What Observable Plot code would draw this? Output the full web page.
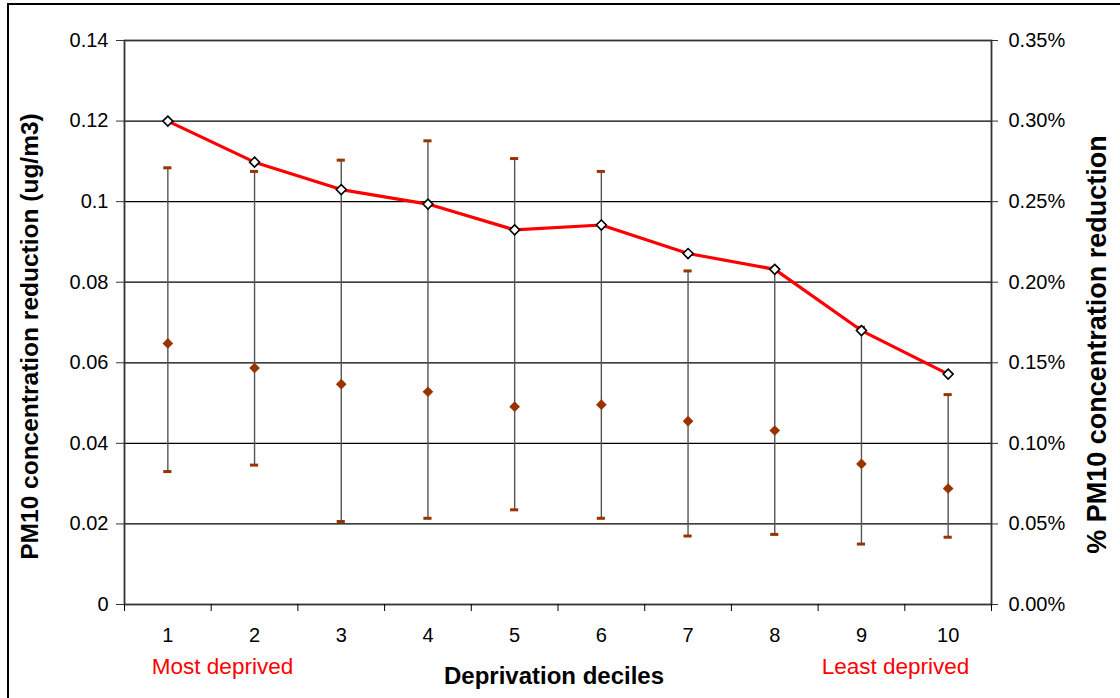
<!DOCTYPE html>
<html>
<head>
<meta charset="utf-8">
<script src="https://cdn.jsdelivr.net/npm/d3@7"></script>
<script src="https://cdn.jsdelivr.net/npm/@observablehq/plot@0.6"></script>
<style>
  html, body { margin: 0; padding: 0; background: #fff; overflow: hidden; }
  #wrap { position: relative; width: 1120px; height: 698px; font-family: "Liberation Sans", Arial, sans-serif; }
  #border { position: absolute; left: 7px; top: 3px; width: 1200px; height: 800px; border: 2px solid #000; box-sizing: border-box; pointer-events: none; }
  #chart { position: absolute; left: 0; top: 0; }
</style>
</head>
<body>
<div id="wrap"><div id="chart"></div><div id="border"></div></div>
<script>
// ---- data ----
const deciles = [1, 2, 3, 4, 5, 6, 7, 8, 9, 10];
// % PM10 concentration reduction (right axis, percent)
const pctReduction = [0.300, 0.2745, 0.2575, 0.2485, 0.2325, 0.2355, 0.2178, 0.208, 0.170, 0.143];
// PM10 concentration reduction (ug/m3, left axis): central estimate and range
const meanReduction = [0.0648, 0.0587, 0.0547, 0.0528, 0.0491, 0.0496, 0.0455, 0.0432, 0.0349, 0.0288];
const upperReduction = [0.1084, 0.1075, 0.1103, 0.1151, 0.1107, 0.1075, 0.0828, 0.0835, 0.0688, 0.0521];
const lowerReduction = [0.0330, 0.0346, 0.0206, 0.0214, 0.0235, 0.0214, 0.0170, 0.0174, 0.0150, 0.0167];
// axes
const leftTicks = [0, 0.02, 0.04, 0.06, 0.08, 0.1, 0.12, 0.14];
const leftTickLabels = ["0", "0.02", "0.04", "0.06", "0.08", "0.1", "0.12", "0.14"];
const rightTickLabels = ["0.00%", "0.05%", "0.10%", "0.15%", "0.20%", "0.25%", "0.30%", "0.35%"];
const rightMaxPct = 0.35;
const xBoundaries = [0.5, 1.5, 2.5, 3.5, 4.5, 5.5, 6.5, 7.5, 8.5, 9.5, 10.5];

const leftMax = leftTicks[leftTicks.length - 1];
const pctToLeft = p => p * leftMax / rightMaxPct;

const rows = deciles.map((d, i) => ({
  decile: d,
  pct: pctReduction[i],
  mean: meanReduction[i],
  hi: upperReduction[i],
  lo: lowerReduction[i]
}));

const brown = "#993300";
const capHalf = 0.047;

const chart = Plot.plot({
  width: 1120,
  height: 698,
  marginLeft: 124,
  marginRight: 129,
  marginTop: 40,
  marginBottom: 94,
  style: { fontFamily: "'Liberation Sans', Arial, sans-serif", background: "transparent", color: "#000" },
  x: { type: "linear", domain: [0.5, 10.5] },
  y: { domain: [0, leftMax] },
  marks: [
    Plot.gridY(leftTicks, { stroke: "#000", strokeOpacity: 1, strokeWidth: 1.2 }),
    Plot.frame({ stroke: "#333", strokeWidth: 1.8 }),
    // left axis
    Plot.axisY(leftTicks, {
      anchor: "left", tickSize: 8, tickPadding: 8, fontSize: 20, label: null,
      stroke: "#333", tickFormat: (d, i) => leftTickLabels[i]
    }),
    // right axis (percent)
    Plot.axisY(leftTicks, {
      anchor: "right", tickSize: 6, tickPadding: 11, fontSize: 20, label: null,
      stroke: "#333", tickFormat: (d, i) => rightTickLabels[i]
    }),
    // bottom tick marks at category boundaries
    Plot.axisX(xBoundaries, { anchor: "bottom", tickSize: 7, tickFormat: () => "", label: null, stroke: "#000" }),
    // bottom category labels
    Plot.axisX(deciles, { anchor: "bottom", tickSize: 0, tickPadding: 23, fontSize: 20, label: null, tickFormat: d => String(d) }),
    // error bars
    Plot.ruleX(rows, { x: "decile", y1: "lo", y2: "hi", stroke: "#555", strokeWidth: 1.4 }),
    Plot.ruleY(rows, { y: "hi", x1: d => d.decile - capHalf, x2: d => d.decile + capHalf, stroke: brown, strokeWidth: 3 }),
    Plot.ruleY(rows, { y: "lo", x1: d => d.decile - capHalf, x2: d => d.decile + capHalf, stroke: brown, strokeWidth: 3 }),
    Plot.dot(rows, { x: "decile", y: "mean", symbol: "diamond2", r: 4.8, fill: brown, stroke: "none" }),
    // % reduction line
    Plot.line(rows, { x: "decile", y: d => pctToLeft(d.pct), stroke: "#ff0000", strokeWidth: 3.2 }),
    Plot.dot(rows, { x: "decile", y: d => pctToLeft(d.pct), symbol: "diamond2", r: 4.5, fill: "#fff", stroke: "#000", strokeWidth: 1.6 }),
    // annotations and titles
    Plot.text(["Most deprived"], { frameAnchor: "bottom-left", dx: 98, dy: 62, fontSize: 22.5, fill: "#ff0000", lineAnchor: "middle", textAnchor: "middle" }),
    Plot.text(["Least deprived"], { frameAnchor: "bottom-right", dx: -96, dy: 62, fontSize: 22.5, fill: "#ff0000", lineAnchor: "middle", textAnchor: "middle" }),
    Plot.text(["Deprivation deciles"], { frameAnchor: "bottom", dx: -4, dy: 72, fontSize: 24, fontWeight: "bold", lineAnchor: "middle", textAnchor: "middle" }),
    Plot.text(["PM10 concentration reduction (ug/m3)"], { frameAnchor: "left", dx: -94, dy: 14, rotate: -90, fontSize: 24.5, fontWeight: "bold", lineAnchor: "middle", textAnchor: "middle" }),
    Plot.text(["% PM10 concentration reduction"], { frameAnchor: "right", dx: 106, dy: 22, rotate: -90, fontSize: 27, fontWeight: "bold", lineAnchor: "middle", textAnchor: "middle" })
  ]
});
document.getElementById("chart").appendChild(chart);
</script>
</body>
</html>
